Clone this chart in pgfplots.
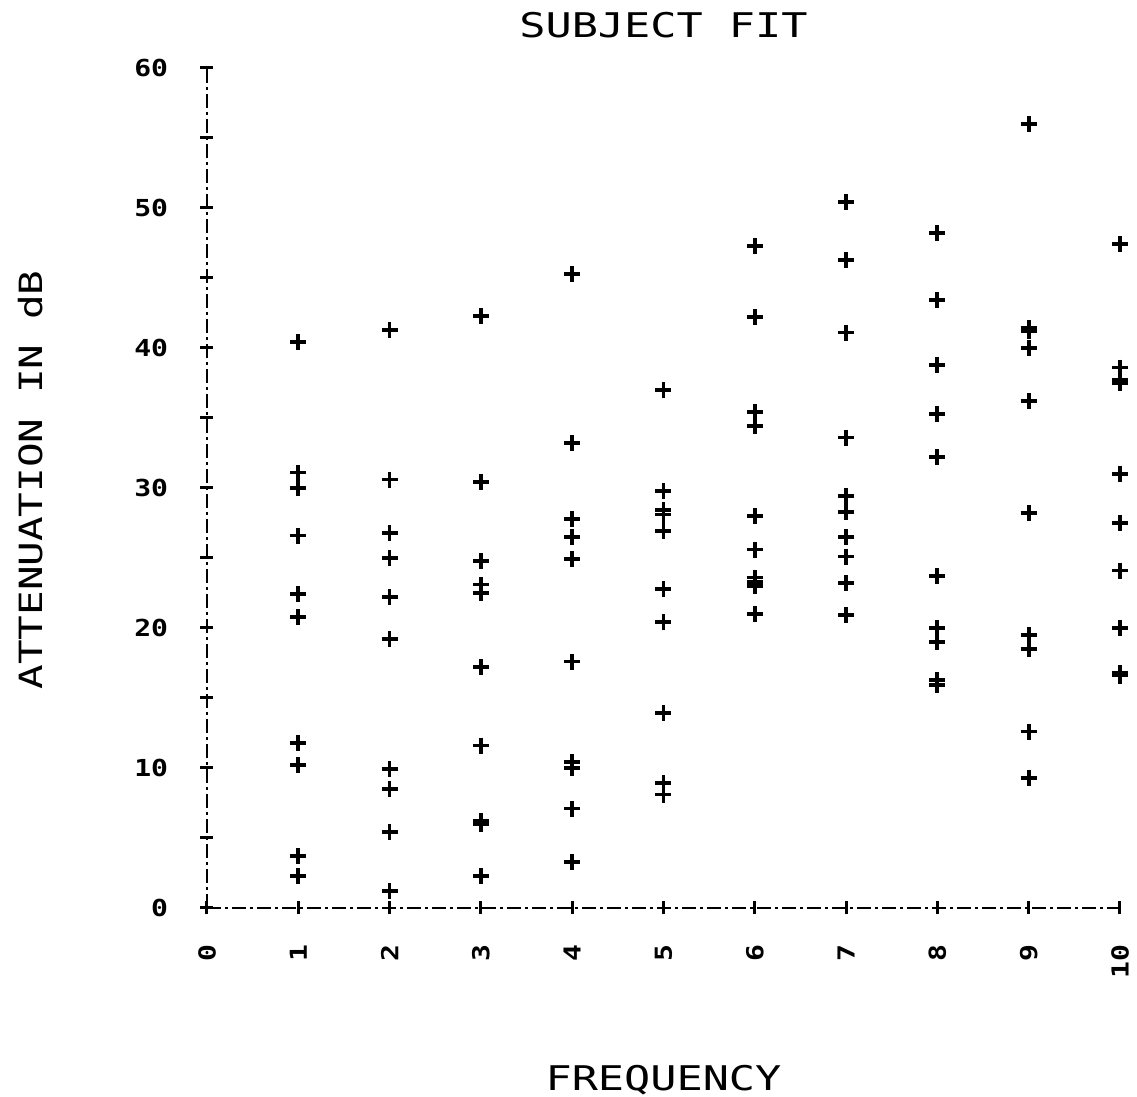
\documentclass[border=0pt]{standalone}
\usepackage{fontspec}
\setmainfont{DejaVu Sans Mono}
\newfontfamily\plotfont[FakeStretch=1.28]{DejaVu Sans Mono}
\newfontfamily\tickfont[FakeStretch=1.2]{DejaVu Sans Mono}
\usepackage{pgfplots}
\pgfplotsset{compat=1.18}
\begin{document}
\begin{tikzpicture}
\begin{axis}[
  at={(0pt,0pt)}, anchor=south west,
  scale only axis, width=456.5pt, height=420pt,
  xmin=0, xmax=10, ymin=0, ymax=60,
  axis lines=left,
  axis line style={-, line width=0.6pt, dash pattern=on 7pt off 2pt on 1.5pt off 2pt},
  xtick={0,1,...,10}, ytick={0,10,...,60}, minor ytick={5,15,...,55},
  tick align=center, major tick length=6.5pt, minor tick length=6.5pt,
  every tick/.style={black, line width=1.5pt, solid},
  /pgf/number format/assume math mode=true,
  yticklabel style={font=\tickfont\bfseries\fontsize{11.7pt}{13pt}\selectfont, anchor=east, inner sep=0pt},
  xticklabel style={font=\tickfont\bfseries\fontsize{11.7pt}{13pt}\selectfont, rotate=90, anchor=east, inner sep=0pt},
  yticklabel shift=16pt,
  xticklabel shift=15pt,
  every axis title shift=0pt,
  title={SUBJECT FIT},
  title style={font=\plotfont\fontsize{17pt}{20pt}\selectfont, at={(axis description cs:0.5,1.0512)}, anchor=center, inner sep=0pt},
  xlabel={FREQUENCY},
  xlabel style={font=\plotfont\fontsize{17pt}{20pt}\selectfont, at={(axis description cs:0.5,-0.2048)}, anchor=center, inner sep=0pt},
  ylabel={ATTENUATION IN dB},
  ylabel style={font=\plotfont\fontsize{16pt}{19pt}\selectfont, at={(axis description cs:-0.1928,0.5095)}, anchor=center, inner sep=0pt},
  clip=false,
]
\addplot[only marks, mark=+, mark size=4pt, mark options={line width=1.9pt, solid}, black] table {
x y
1 40.4
1 31.1
1 30.0
1 26.6
1 22.4
1 20.8
1 11.8
1 10.2
1 3.7
1 2.3
2 41.3
2 30.6
2 26.8
2 25.0
2 22.2
2 19.2
2 9.9
2 8.5
2 5.4
2 1.2
3 42.3
3 30.4
3 24.8
3 23.1
3 22.5
3 17.2
3 11.6
3 6.0
3 6.2
3 2.3
4 45.3
4 33.2
4 27.8
4 26.5
4 24.9
4 17.6
4 10.4
4 10.0
4 7.1
4 3.3
5 37.0
5 29.8
5 28.4
5 28.1
5 26.9
5 22.8
5 20.4
5 13.9
5 8.9
5 8.1
6 47.3
6 42.2
6 35.4
6 34.4
6 28.0
6 25.6
6 23.6
6 23.3
6 23.0
6 21.0
7 50.4
7 46.3
7 41.1
7 33.6
7 29.4
7 28.3
7 26.5
7 25.1
7 23.2
7 20.9
8 48.2
8 43.4
8 38.8
8 35.3
8 32.2
8 23.7
8 20.0
8 19.0
8 16.3
8 15.9
9 56.0
9 41.4
9 41.2
9 40.0
9 36.2
9 28.2
9 19.5
9 18.5
9 12.6
9 9.3
10 47.4
10 38.6
10 37.7
10 37.5
10 31.0
10 27.5
10 24.1
10 20.0
10 16.8
10 16.6
};
\end{axis}
\pgfresetboundingbox
\useasboundingbox (-103.5pt,-94.5pt) rectangle (465pt,454pt);
\end{tikzpicture}
\end{document}
